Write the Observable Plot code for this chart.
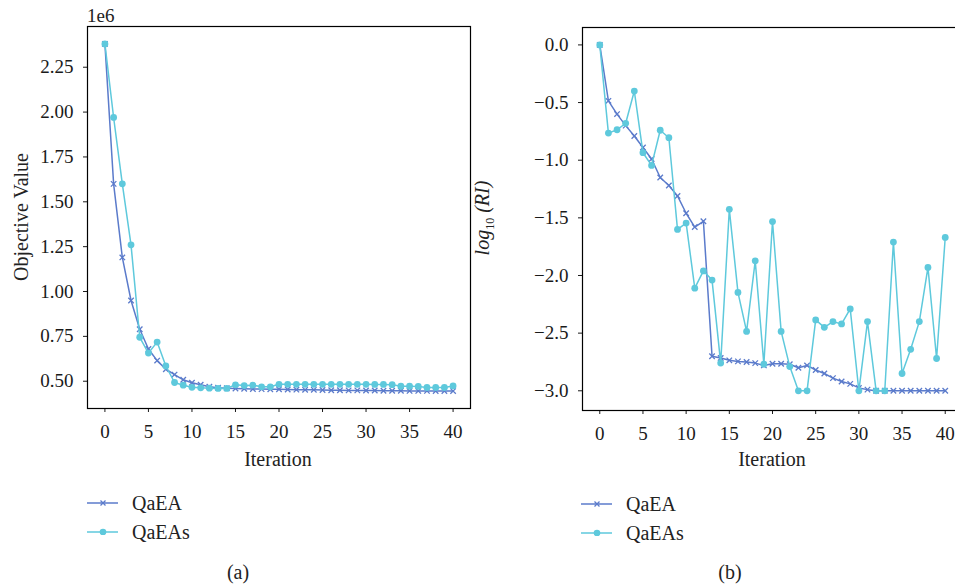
<!DOCTYPE html>
<html>
<head>
<meta charset="utf-8">
<script src="https://cdn.jsdelivr.net/npm/d3@7"></script>
<script src="https://cdn.jsdelivr.net/npm/@observablehq/plot@0.6"></script>
<style>
  html, body { margin: 0; padding: 0; background: #fff; }
  #wrap { position: relative; width: 955px; height: 588px; overflow: hidden; background: #fff;
          font-family: "Liberation Serif", "DejaVu Serif", serif; color: #222; }
  #wrap svg.plotsvg { position: absolute; top: 0; }
  .lbl { position: absolute; white-space: nowrap; line-height: 1; }
  .rot { transform: translate(-50%, -50%) rotate(-90deg); }
  .ctr { transform: translate(-50%, -50%); }
  .lft { transform: translate(0, -50%); }
  sub { font-size: 0.6em; vertical-align: -0.35em; font-style: normal; }
</style>
</head>
<body>
<div id="wrap"></div>
<script>
// ---------- data ----------
const iterations = [0,1,2,3,4,5,6,7,8,9,10,11,12,13,14,15,16,17,18,19,20,21,22,23,24,25,26,27,28,29,30,31,32,33,34,35,36,37,38,39,40];

// Panel (a): objective value, in units of 1e6
const objQaEA = [2.38,1.60,1.19,0.95,0.79,0.68,0.615,0.567,0.537,0.508,0.492,0.480,0.469,0.464,0.461,0.459,0.458,0.457,0.456,0.455,0.455,0.454,0.453,0.452,0.452,0.451,0.450,0.450,0.449,0.449,0.448,0.448,0.447,0.447,0.447,0.446,0.446,0.446,0.445,0.445,0.445];
const objQaEAs = [2.38,1.97,1.60,1.26,0.745,0.657,0.718,0.585,0.493,0.478,0.466,0.463,0.461,0.460,0.460,0.480,0.476,0.478,0.469,0.469,0.483,0.483,0.483,0.483,0.483,0.483,0.483,0.483,0.483,0.483,0.483,0.482,0.482,0.481,0.472,0.472,0.471,0.465,0.465,0.465,0.474];

// Panel (b): log10(RI)
const riQaEA = [0,-0.485,-0.60,-0.70,-0.79,-0.89,-0.99,-1.15,-1.22,-1.31,-1.46,-1.58,-1.53,-2.70,-2.716,-2.736,-2.745,-2.75,-2.76,-2.78,-2.765,-2.765,-2.77,-2.80,-2.78,-2.82,-2.85,-2.89,-2.92,-2.94,-2.975,-2.99,-3.0,-3.0,-3.0,-3.0,-3.0,-3.0,-3.0,-3.0,-3.0];
const riQaEAs = [0,-0.765,-0.736,-0.68,-0.40,-0.935,-1.045,-0.74,-0.805,-1.60,-1.545,-2.11,-1.96,-2.04,-2.76,-1.426,-2.147,-2.485,-1.873,-2.77,-1.532,-2.485,-2.79,-3.0,-3.0,-2.385,-2.45,-2.40,-2.42,-2.29,-3.0,-2.40,-3.0,-3.0,-1.71,-2.85,-2.64,-2.40,-1.93,-2.72,-1.67];

const seriesNames = ["QaEA", "QaEAs"];
const xTicks = [0,5,10,15,20,25,30,35,40];
const yTicksA = [0.50,0.75,1.00,1.25,1.50,1.75,2.00,2.25];
const yTicksB = [0.0,-0.5,-1.0,-1.5,-2.0,-2.5,-3.0];
const captions = ["(a)", "(b)"];

// ---------- styles ----------
const colA = "#5b7bcb";
const colB = "#5ec9dc";
const FONT = "Liberation Serif, DejaVu Serif, serif";

function panel(rows, o) {
  const svg = Plot.plot({
    width: o.width, height: o.height,
    marginLeft: o.ml, marginRight: o.mr, marginTop: o.mt, marginBottom: o.mb,
    style: {fontFamily: FONT, fontSize: "19px", color: "#1a1a1a", background: "transparent", overflow: "visible"},
    x: {domain: [-2, 42], ticks: xTicks, tickSize: 4, tickPadding: 12, label: null},
    y: {domain: o.yDomain, ticks: o.yTicks, tickFormat: o.fmt, tickSize: 4, tickPadding: 10, label: null},
    marks: [
      Plot.frame({stroke: "#000", strokeWidth: 1.2}),
      Plot.line(rows, {x: "it", y: "a", stroke: colA, strokeWidth: 1.5}),
      Plot.dot(rows, {x: "it", y: "a", symbol: "times", r: 2.6, stroke: colA, strokeWidth: 1.3}),
      Plot.line(rows, {x: "it", y: "b", stroke: colB, strokeWidth: 1.5}),
      Plot.dot(rows, {x: "it", y: "b", r: 3.4, fill: colB, stroke: "none"})
    ]
  });
  svg.classList.add("plotsvg");
  svg.style.left = o.left + "px";
  return svg;
}

const wrap = document.getElementById("wrap");
const rowsA = iterations.map((it, i) => ({it, a: objQaEA[i], b: objQaEAs[i]}));
const rowsB = iterations.map((it, i) => ({it, a: riQaEA[i], b: riQaEAs[i]}));

wrap.appendChild(panel(rowsA, {left: 0, width: 480, height: 470, ml: 87, mr: 10, mt: 26, mb: 62,
  yDomain: [0.348, 2.477], yTicks: yTicksA, fmt: d => d.toFixed(2)}));
wrap.appendChild(panel(rowsB, {left: 480, width: 490, height: 470, ml: 102, mr: 8, mt: 27, mb: 60,
  yDomain: [-3.171, 0.151], yTicks: yTicksB, fmt: d => d.toFixed(1).replace("-", "\u2212")}));

function label(html, x, y, cls, size) {
  const d = document.createElement("div");
  d.className = "lbl " + cls;
  d.style.left = x + "px"; d.style.top = y + "px";
  d.style.fontSize = (size || 20) + "px";
  d.innerHTML = html;
  wrap.appendChild(d);
  return d;
}

// axis titles
label("Objective Value", 21, 217, "rot", 20);
label("<i>log</i><sub>10</sub> <i>(RI)</i>", 484, 218, "rot", 20);
label("Iteration", 278, 459, "ctr", 20);
label("Iteration", 772, 459, "ctr", 20);
label("1e6", 87, 15, "lft", 19);

// legends
function legend(x0, y0) {
  const ns = "http://www.w3.org/2000/svg";
  const s = document.createElementNS(ns, "svg");
  s.setAttribute("width", 34); s.setAttribute("height", 40);
  s.style.position = "absolute"; s.style.left = x0 + "px"; s.style.top = (y0 - 8) + "px";
  s.innerHTML =
    `<line x1="0" x2="31" y1="8" y2="8" stroke="${colA}" stroke-width="1.5"/>` +
    `<path d="M13.5,5.5L18.5,10.5M13.5,10.5L18.5,5.5" stroke="${colA}" stroke-width="1.3"/>` +
    `<line x1="0" x2="31" y1="37" y2="37" stroke="${colB}" stroke-width="1.5"/>` +
    `<circle cx="16" cy="37" r="3.3" fill="${colB}"/>`;
  wrap.appendChild(s);
  label(seriesNames[0], x0 + 45, y0, "lft", 20);
  label(seriesNames[1], x0 + 45, y0 + 29, "lft", 20);
}
legend(87, 503);
legend(581, 504);

label(captions[0], 238, 572, "ctr", 20);
label(captions[1], 730, 572, "ctr", 20);
</script>
</body>
</html>
